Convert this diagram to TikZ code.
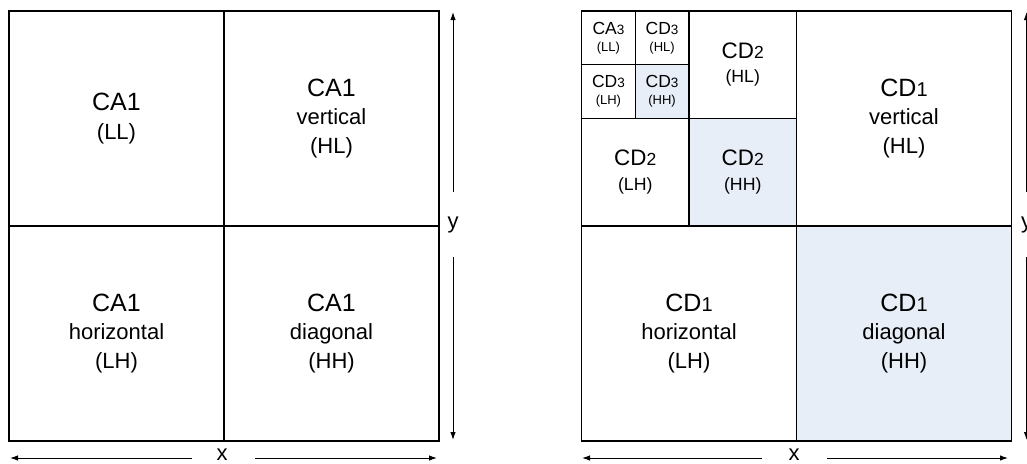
\documentclass[tikz,border=0pt]{standalone}
\usepackage{fontspec}
\setmainfont{Liberation Sans}
\usetikzlibrary{arrows.meta}
\definecolor{cellblue}{RGB}{232,238,247}

% title lines of the three cell sizes, and the smaller level digit
\newcommand\bigtitle[1]{{\fontsize{25}{28.5}\selectfont #1}}
\newcommand\midtitle[1]{{\fontsize{22.4}{24.5}\selectfont #1}}
\newcommand\tinytitle[1]{{\fontsize{17.5}{17}\selectfont #1}}
\newcommand\lowdigit[2]{{\fontsize{#1}{#1}\selectfont #2}}

\begin{document}
\begin{tikzpicture}[x=1pt,y=-1pt,
  cell/.style={draw=black, line width=1.3pt, inner sep=0pt, align=center, anchor=center},
  bigcell/.style={cell, minimum width=215pt, minimum height=215pt, font=\fontsize{22}{28.5}\selectfont},
  midcell/.style={cell, minimum width=107.5pt, minimum height=107.5pt, font=\fontsize{17.7}{24.5}\selectfont},
  tinycell/.style={cell, minimum width=53.75pt, minimum height=53.75pt, font=\fontsize{13}{17}\selectfont},
  shaded/.style={fill=cellblue},
  axis/.style={line width=1pt, -{Latex[length=8pt,width=5.5pt]}},
  axislabel/.style={inner sep=0pt, font=\fontsize{22}{22}\selectfont}]

\useasboundingbox (0,0) rectangle (1027,463);

% ---- one-level decomposition
\node[bigcell] (aLL) at (116.5,118.5) {\bigtitle{CA1}\\(LL)};
\node[bigcell] (aHL) at (331.5,118.5) {\bigtitle{CA1}\\vertical\\(HL)};
\node[bigcell] (aLH) at (116.5,333.5) {\bigtitle{CA1}\\horizontal\\(LH)};
\node[bigcell] (aHH) at (331.5,333.5) {\bigtitle{CA1}\\diagonal\\(HH)};

% ---- three-level decomposition
\node[bigcell] (dHL1) at (904,118.5) {\bigtitle{CD\lowdigit{20}{1}}\\vertical\\(HL)};
\node[bigcell] (dLH1) at (689,333.5) {\bigtitle{CD\lowdigit{20}{1}}\\horizontal\\(LH)};
\node[bigcell,shaded] (dHH1) at (904,333.5) {\bigtitle{CD\lowdigit{20}{1}}\\diagonal\\(HH)};

\node[midcell] (dHL2) at (742.75,64.75) {\midtitle{CD\lowdigit{17.5}{2}}\\(HL)};
\node[midcell] (dLH2) at (635.25,172.25) {\midtitle{CD\lowdigit{17.5}{2}}\\(LH)};
\node[midcell,shaded] (dHH2) at (742.75,172.25) {\midtitle{CD\lowdigit{17.5}{2}}\\(HH)};

\node[tinycell] (aLL3) at (608.4,37.9) {\tinytitle{CA\lowdigit{13.5}{3}}\\(LL)};
\node[tinycell] (dHL3) at (662.1,37.9) {\tinytitle{CD\lowdigit{13.5}{3}}\\(HL)};
\node[tinycell] (dLH3) at (608.4,91.6) {\tinytitle{CD\lowdigit{13.5}{3}}\\(LH)};
\node[tinycell,shaded] (dHH3) at (662.1,91.6) {\tinytitle{CD\lowdigit{13.5}{3}}\\(HH)};

% ---- axes of the left square (yshift is in page points: positive is up)
\node[axislabel] (yL) at (453,225) {y};
\coordinate (yLtop) at (453,12);
\coordinate (yLbot) at (453,440);
\draw[axis] ([yshift=33pt]yL.center) -- (yLtop);
\draw[axis] ([yshift=-32pt]yL.center) -- (yLbot);

\node[axislabel] (xL) at (222,455) {x};
\coordinate (xLleft) at (10,458);
\coordinate (xLright) at (437,458);
\draw[axis] ([xshift=-30pt]xL.center |- xLleft) -- (xLleft);
\draw[axis] ([xshift=33pt]xL.center |- xLright) -- (xLright);

% ---- axes of the right square
\node[axislabel] (yR) at (1026.5,225) {y};
\coordinate (yRtop) at (1026.5,12);
\coordinate (yRbot) at (1026.5,440);
\draw[axis] ([yshift=33pt]yR.center) -- (yRtop);
\draw[axis] ([yshift=-32pt]yR.center) -- (yRbot);

\node[axislabel] (xR) at (794,455) {x};
\coordinate (xRleft) at (582,458);
\coordinate (xRright) at (1008,458);
\draw[axis] ([xshift=-32pt]xR.center |- xRleft) -- (xRleft);
\draw[axis] ([xshift=33pt]xR.center |- xRright) -- (xRright);

\end{tikzpicture}
\end{document}
